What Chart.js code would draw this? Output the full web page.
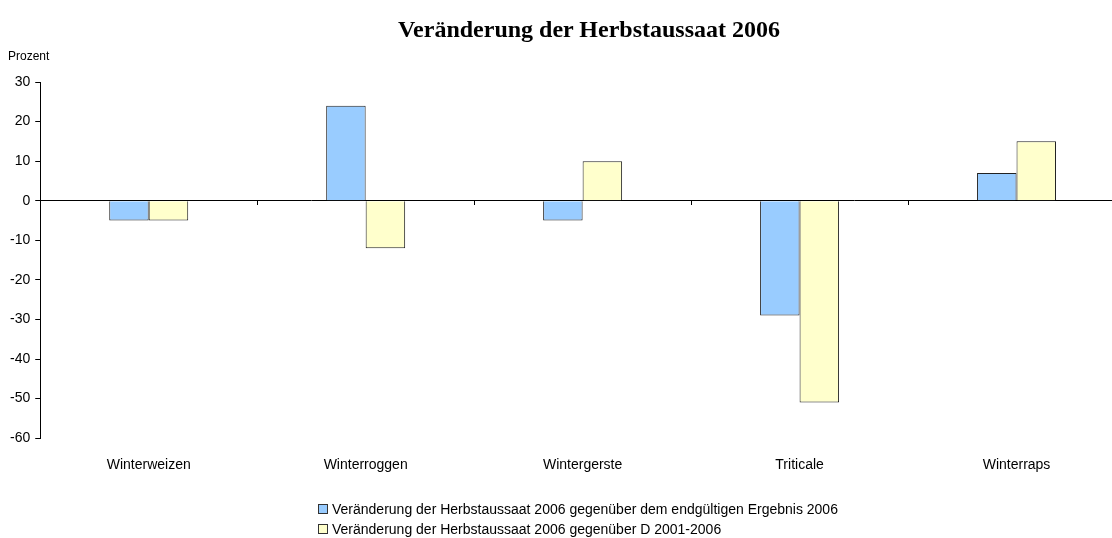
<!DOCTYPE html>
<html>
<head>
<meta charset="utf-8">
<script src="https://cdn.jsdelivr.net/npm/chart.js@4/dist/chart.umd.min.js"></script>
<style>
  html, body { margin: 0; padding: 0; background: #fff; overflow: hidden; }
  #wrap { position: relative; width: 1112px; height: 538px; overflow: hidden; }
  #chartBox { position: absolute; left: 0; top: 0; width: 1164px; height: 500px; }
  #title { position: absolute; left: 0; top: 16px; width: 1178px; text-align: center; line-height: 28px;
           font: bold 24px "Liberation Serif", "Times New Roman", serif; color: #000; white-space: nowrap; }
  #unit { position: absolute; left: 8px; top: 49px; font: 12px "Liberation Sans", Arial, sans-serif; color: #000; }
  #legend { position: absolute; left: 318px; top: 499px; font: 14px "Liberation Sans", Arial, sans-serif; color: #000; }
  #legend div { height: 20px; line-height: 20px; white-space: nowrap; }
  #legend span.box { display: inline-block; width: 8px; height: 8px; border: 1px solid #333; margin-right: 4px; vertical-align: 0px; }
</style>
</head>
<body>
<div id="wrap">
  <div id="chartBox"><canvas id="chart"></canvas></div>
  <div id="title">Veränderung der Herbstaussaat 2006</div>
  <div id="unit">Prozent</div>
  <div id="legend"></div>
</div>
<script>
const categories = ["Winterweizen", "Winterroggen", "Wintergerste", "Triticale", "Winterraps"];
const seriesNames = [
  "Veränderung der Herbstaussaat 2006 gegenüber dem endgültigen Ergebnis 2006",
  "Veränderung der Herbstaussaat 2006 gegenüber D 2001-2006"
];
const vsFinal2006 = [-5, 24, -5, -29, 7];
const vsAvg2001to2006 = [-5, -12, 10, -51, 15];
const yTicks = [30, 20, 10, 0, -10, -20, -30, -40, -50, -60];
const colors = ["#99CCFF", "#FFFFCC"];

const font = { family: "'Liberation Sans', Arial, sans-serif", size: 14 };

chart = new Chart(document.getElementById("chart"), {
  type: "bar",
  data: {
    labels: categories,
    datasets: [
      { label: seriesNames[0], data: vsFinal2006, backgroundColor: colors[0], borderColor: "#222", borderWidth: 1 },
      { label: seriesNames[1], data: vsAvg2001to2006, backgroundColor: colors[1], borderColor: "#222", borderWidth: 1 }
    ]
  },
  options: {
    responsive: true,
    maintainAspectRatio: false,
    animation: false,
    layout: { padding: { left: 5, right: 39, top: 82, bottom: 15 } },
    datasets: { bar: { categoryPercentage: 0.364, barPercentage: 1 } },
    plugins: {
      legend: { display: false },
      tooltip: { enabled: false },
      title: { display: false }
    },
    scales: {
      x: {
        type: "category",
        position: "bottom",
        border: { display: false },
        grid: { display: false },
        ticks: { color: "#000", font: font, padding: 11, maxRotation: 0 }
      },
      x0: {
        type: "category",
        labels: categories,
        position: { y: 0 },
        offset: true,
        border: { display: true, color: "#000", width: 1 },
        grid: { display: true, offset: true, drawOnChartArea: false, drawTicks: true, tickLength: 4, color: "#000" },
        ticks: { display: false }
      },
      y: {
        min: -60,
        max: 30,
        border: { display: true, color: "#000", width: 1 },
        grid: { drawOnChartArea: false, drawTicks: true, tickLength: 5, color: "#000" },
        ticks: {
          stepSize: 10,
          color: "#000",
          font: font,
          padding: 5,
          callback: (v) => yTicks.includes(v) ? String(v) : ""
        }
      }
    }
  }
});

const legendEl = document.getElementById("legend");
chart.data.datasets.forEach((ds) => {
  const row = document.createElement("div");
  const box = document.createElement("span");
  box.className = "box";
  box.style.background = ds.backgroundColor;
  row.appendChild(box);
  row.appendChild(document.createTextNode(ds.label));
  legendEl.appendChild(row);
});
</script>
</body>
</html>
